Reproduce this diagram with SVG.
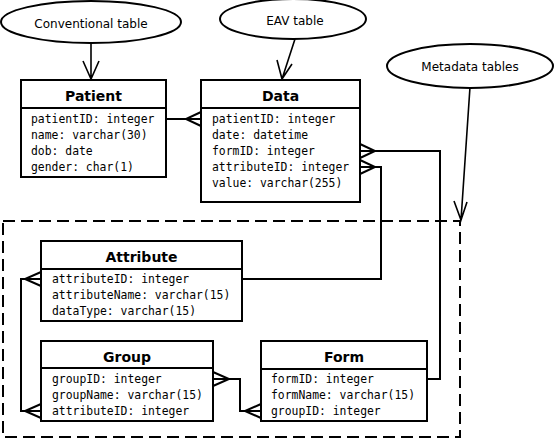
<svg xmlns="http://www.w3.org/2000/svg" width="555" height="440" viewBox="0 0 555 440">
<style>
.box{fill:#fff;stroke:#000;stroke-width:2}
.hdr{font-family:"DejaVu Sans",sans-serif;font-weight:bold;font-size:14px;text-anchor:middle;fill:#000}
.row{font-family:"DejaVu Sans Mono",monospace;font-size:11.4px;fill:#000}
.ell{fill:#fff;stroke:#000;stroke-width:2}
.lbl{font-family:"DejaVu Sans",sans-serif;font-size:12px;text-anchor:middle;fill:#000}
.con{fill:none;stroke:#000;stroke-width:2}
.arr{fill:none;stroke:#000;stroke-width:1.6}
.dash{fill:none;stroke:#000;stroke-width:2;stroke-dasharray:12 6}
</style>
<rect width="555" height="440" fill="#fff"/>
<rect id="metadata-region" class="dash" x="3" y="221" width="457" height="216"/>
<g id="connectors">
<path class="arr" d="M91,43 V79 M83,61 L91,79 L99,61"/>
<path class="arr" d="M295,39 L282,79 M277,60 L282,79 L292,64"/>
<path class="arr" d="M470,87 L461,220 M454,201 L461,220 L467,202"/>
<path class="con" d="M166,119 H201 M201,112 L186,119 L201,126"/>
<path class="con" d="M360,151 H440 V379 H427 M360,144 L375,151 L360,158"/>
<path class="con" d="M360,167 H381 V279 H242 M360,160 L375,167 L360,174"/>
<path class="con" d="M41,279 H21 V411 H41 M41,272 L25,279 L41,286 M41,404 L25,411 L41,418"/>
<path class="con" d="M213,379 H240 V411 H261 M213,372 L229,379 L213,386 M261,404 L245,411 L261,418"/>
</g>
<g id="conventional-table">
<ellipse class="ell" cx="91" cy="22" rx="90" ry="21"/>
<text class="lbl" x="91" y="28">Conventional table</text>
</g>
<g id="eav-table">
<ellipse class="ell" cx="293" cy="19" rx="73" ry="20"/>
<text class="lbl" x="295" y="25">EAV table</text>
</g>
<g id="metadata-tables">
<ellipse class="ell" cx="470" cy="66" rx="83" ry="22"/>
<text class="lbl" x="470" y="71">Metadata tables</text>
</g>
<g id="patient">
<rect class="box" x="21" y="80" width="145" height="97"/>
<line class="con" x1="21" y1="108" x2="166" y2="108"/>
<text class="hdr" x="93.5" y="101">Patient</text>
<text class="row" x="31" y="123">patientID: integer</text>
<text class="row" x="31" y="139">name: varchar(30)</text>
<text class="row" x="31" y="155">dob: date</text>
<text class="row" x="31" y="171">gender: char(1)</text>
</g>
<g id="data">
<rect class="box" x="201" y="80" width="159" height="122"/>
<line class="con" x1="201" y1="108" x2="360" y2="108"/>
<text class="hdr" x="280.5" y="101">Data</text>
<text class="row" x="212" y="123">patientID: integer</text>
<text class="row" x="212" y="139">date: datetime</text>
<text class="row" x="212" y="155">formID: integer</text>
<text class="row" x="212" y="171">attributeID: integer</text>
<text class="row" x="212" y="187">value: varchar(255)</text>
</g>
<g id="attribute">
<rect class="box" x="41" y="241" width="201" height="80"/>
<line class="con" x1="41" y1="269" x2="242" y2="269"/>
<text class="hdr" x="141.5" y="262">Attribute</text>
<text class="row" x="52" y="283">attributeID: integer</text>
<text class="row" x="52" y="299">attributeName: varchar(15)</text>
<text class="row" x="52" y="315">dataType: varchar(15)</text>
</g>
<g id="group">
<rect class="box" x="41" y="341" width="172" height="80"/>
<line class="con" x1="41" y1="368" x2="213" y2="368"/>
<text class="hdr" x="127" y="362">Group</text>
<text class="row" x="52" y="383">groupID: integer</text>
<text class="row" x="52" y="399">groupName: varchar(15)</text>
<text class="row" x="52" y="415">attributeID: integer</text>
</g>
<g id="form">
<rect class="box" x="261" y="341" width="166" height="80"/>
<line class="con" x1="261" y1="369" x2="427" y2="369"/>
<text class="hdr" x="344" y="362">Form</text>
<text class="row" x="271" y="383">formID: integer</text>
<text class="row" x="271" y="399">formName: varchar(15)</text>
<text class="row" x="271" y="415">groupID: integer</text>
</g>
</svg>
